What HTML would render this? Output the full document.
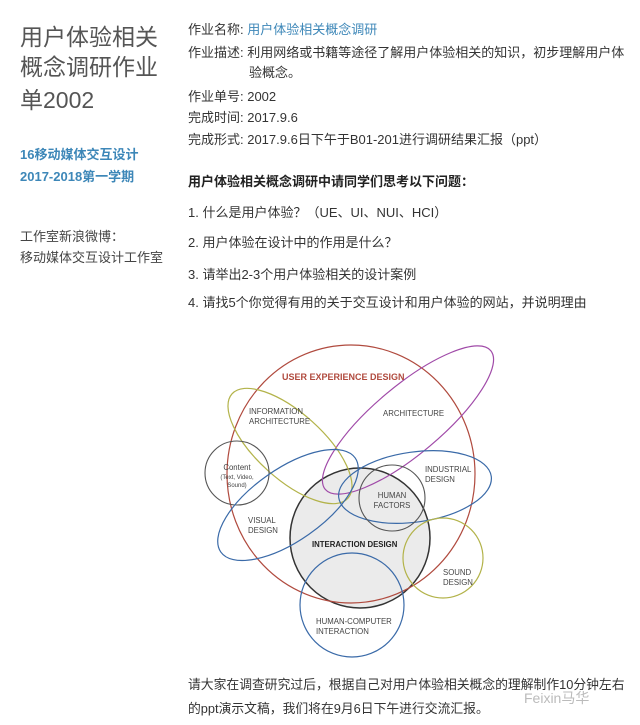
<!DOCTYPE html>
<html><head><meta charset="utf-8"><style>
body{margin:0;width:640px;height:725px;background:#fff;position:relative;overflow:hidden;font-family:"Liberation Sans","Noto Sans CJK SC",sans-serif;color:#333}
.t{position:absolute;white-space:nowrap;font-size:13px;line-height:16px}
.h{position:absolute;left:20px;font-size:23px;color:#555;white-space:nowrap;line-height:28px}
</style></head><body>
<div class="h" style="top:23px">用户体验相关</div>
<div class="h" style="top:53px">概念调研作业</div>
<div class="h" style="top:86px">单2002</div>
<div class="t" style="left:20px;top:147px;color:#3d87b8;font-weight:bold">16移动媒体交互设计</div>
<div class="t" style="left:20px;top:169px;color:#3d87b8;font-weight:bold">2017-2018第一学期</div>
<div class="t" style="left:20px;top:229px;color:#444">工作室新浪微博：</div>
<div class="t" style="left:20px;top:250px;color:#444">移动媒体交互设计工作室</div>

<div class="t" style="left:188px;top:22px">作业名称: <span style="color:#3d87b8">用户体验相关概念调研</span></div>
<div class="t" style="left:188px;top:45px">作业描述: 利用网络或书籍等途径了解用户体验相关的知识，初步理解用户体</div>
<div class="t" style="left:249px;top:65px">验概念。</div>
<div class="t" style="left:188px;top:89px">作业单号: 2002</div>
<div class="t" style="left:188px;top:110px">完成时间: 2017.9.6</div>
<div class="t" style="left:188px;top:132px">完成形式: 2017.9.6日下午于B01-201进行调研结果汇报（ppt）</div>
<div class="t" style="left:188px;top:174px;font-weight:bold;color:#222">用户体验相关概念调研中请同学们思考以下问题：</div>
<div class="t" style="left:188px;top:205px">1. 什么是用户体验？（UE、UI、NUI、HCI）</div>
<div class="t" style="left:188px;top:235px">2. 用户体验在设计中的作用是什么？</div>
<div class="t" style="left:188px;top:267px">3. 请举出2-3个用户体验相关的设计案例</div>
<div class="t" style="left:188px;top:295px">4. 请找5个你觉得有用的关于交互设计和用户体验的网站，并说明理由</div>

<svg style="position:absolute;left:0;top:0" width="640" height="725" font-family="Liberation Sans,sans-serif" font-size="7.8" fill="#444">
<circle cx="360" cy="538" r="70" fill="#ebebeb" stroke="#333" stroke-width="1.5"/>
<ellipse cx="351" cy="474" rx="124" ry="129" fill="none" stroke="#b04a3e" stroke-width="1.2"/>
<ellipse cx="408" cy="420" rx="108" ry="34" transform="rotate(-40 408 420)" fill="none" stroke="#a04aa8" stroke-width="1.2"/>
<ellipse cx="290" cy="446" rx="78" ry="33" transform="rotate(42 290 446)" fill="none" stroke="#b3b34a" stroke-width="1.2"/>
<circle cx="237" cy="473" r="32" fill="none" stroke="#555" stroke-width="1.1"/>
<ellipse cx="288" cy="505" rx="82" ry="36" transform="rotate(-35 288 505)" fill="none" stroke="#3a6aa8" stroke-width="1.2"/>
<ellipse cx="415" cy="487" rx="77" ry="35" transform="rotate(-8 415 487)" fill="none" stroke="#3a6aa8" stroke-width="1.2"/>
<circle cx="392" cy="498" r="33" fill="none" stroke="#555" stroke-width="1.1"/>
<circle cx="443" cy="558" r="40" fill="none" stroke="#b3b34a" stroke-width="1.2"/>
<circle cx="352" cy="605" r="52" fill="none" stroke="#3a6aa8" stroke-width="1.2"/>
<text x="282" y="380" font-size="9" fill="#b04a3e" font-weight="bold">USER EXPERIENCE DESIGN</text>
<text x="249" y="414">INFORMATION</text><text x="249" y="424">ARCHITECTURE</text>
<text x="383" y="416">ARCHITECTURE</text>
<text x="237" y="470" text-anchor="middle">Content</text>
<text x="237" y="479" text-anchor="middle" font-size="6">(Text, Video,</text>
<text x="237" y="487" text-anchor="middle" font-size="6">Sound)</text>
<text x="425" y="472">INDUSTRIAL</text><text x="425" y="482">DESIGN</text>
<text x="392" y="498" text-anchor="middle">HUMAN</text><text x="392" y="508" text-anchor="middle">FACTORS</text>
<text x="248" y="523">VISUAL</text><text x="248" y="533">DESIGN</text>
<text x="312" y="547" font-weight="bold" fill="#222">INTERACTION DESIGN</text>
<text x="443" y="575">SOUND</text><text x="443" y="585">DESIGN</text>
<text x="316" y="624">HUMAN-COMPUTER</text><text x="316" y="634">INTERACTION</text>
</svg>

<div class="t" style="left:188px;top:677px;font-size:12.8px">请大家在调查研究过后，根据自己对用户体验相关概念的理解制作10分钟左右</div>
<div class="t" style="left:188px;top:701px;font-size:12.8px">的ppt演示文稿，我们将在9月6日下午进行交流汇报。</div>
<div class="t" style="left:524px;top:690px;color:#bbb;font-size:14px">Feixin马华</div>
</body></html>
